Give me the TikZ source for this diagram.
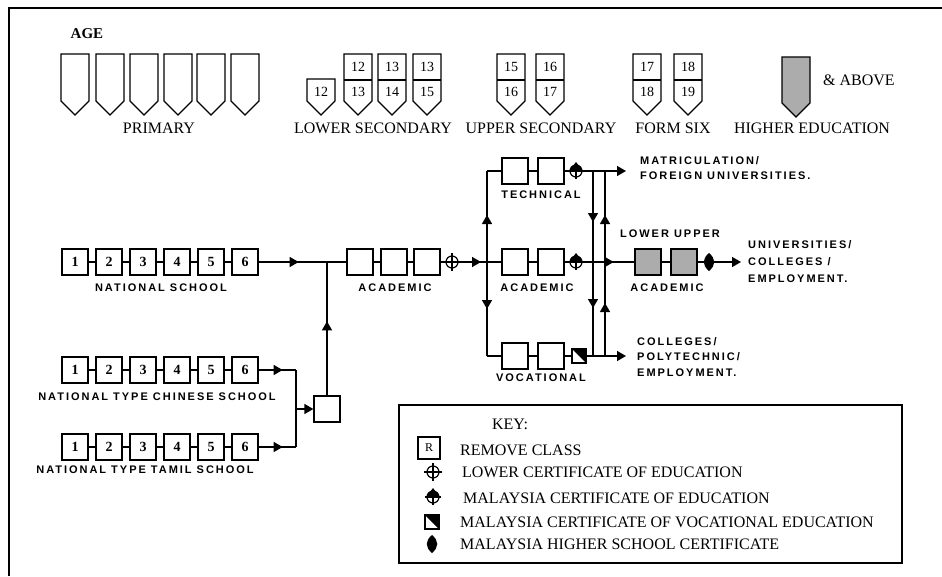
\documentclass[tikz,border=0pt]{standalone}
\usepackage{fontspec}
\setmainfont{Liberation Serif}
\newfontfamily\tagfont[LetterSpace=18]{Liberation Sans}
\usetikzlibrary{arrows.meta,decorations.markings}

\tikzset{
  flow/.style={line width=1.4pt},
  shieldline/.style={line width=1.3pt, line join=miter},
  yearbox/.style={draw, line width=1.3pt, minimum size=26pt, inner sep=0pt,
    font=\fontsize{14}{14}\selectfont\bfseries},
  hebox/.style={yearbox, fill=gray!65},
  agenum/.style={inner sep=0pt, font=\fontsize{14}{14}\selectfont},
  stage/.style={inner sep=0pt, font=\fontsize{16}{18}\selectfont},
  tag/.style={inner sep=0pt, font=\tagfont\fontsize{11}{12}\selectfont\bfseries},
  keytext/.style={stage, anchor=west},
  endarrow/.style={-{Triangle[length=9pt,width=10pt]}},
  midarrow/.style={postaction={decorate}, decoration={markings,
    mark=at position #1 with {\arrow{Triangle[length=9pt,width=10pt]}}}},
  lcesym/.pic={
    \fill[white] (0pt,0pt) circle (6pt);
    \draw[line width=1.2pt] (0pt,0pt) circle (6pt);
    \draw[line width=1.2pt] (-9pt,0pt) -- (9pt,0pt) (0pt,-9pt) -- (0pt,9pt);
  },
  mcesym/.pic={
    \fill[white] (0pt,0pt) circle (6pt);
    \fill (-6pt,0pt) arc[start angle=180,end angle=0,radius=6pt] -- cycle;
    \fill (-3pt,5pt) -- (0pt,9pt) -- (3pt,5pt) -- cycle;
    \draw[line width=1.2pt] (0pt,0pt) circle (6pt);
    \draw[line width=1.2pt] (-8pt,0pt) -- (8pt,0pt) (0pt,-8pt) -- (0pt,6pt);
  },
  mcvesym/.pic={
    \fill[white] (-7pt,-7pt) rectangle (7pt,7pt);
    \fill (-7pt,7pt) -- (7pt,7pt) -- (7pt,-7pt) -- cycle;
    \draw[line width=1.2pt] (-7pt,-7pt) rectangle (7pt,7pt);
  },
  mhscsym/.pic={
    \fill (0pt,9pt) .. controls (7pt,3pt) and (7pt,-3pt) .. (0pt,-9pt)
      .. controls (-7pt,-3pt) and (-7pt,3pt) .. (0pt,9pt);
  },
}

\begin{document}
\begin{tikzpicture}[x=1pt,y=-1pt]
  \useasboundingbox (0,0) rectangle (942,576);
  \draw[line width=1.3pt] (9,576) -- (9,8) -- (942,8);

  % age scale
  \node[inner sep=0pt, font=\fontsize{15}{15}\selectfont\bfseries] (age) at (87,34) {AGE};
  \foreach \x in {61,96,130,164,197,231}
    \draw[shieldline] (\x,54) -- ++(28,0) -- ++(0,47) -- ++(-14,14) -- ++(-14,-14) -- cycle;
  \draw[shieldline] (307,79) -- ++(28,0) -- ++(0,22) -- ++(-14,14) -- ++(-14,-14) -- cycle;
  \node[agenum] (s307) at (321,92) {12};
  \foreach \x/\a/\b in {344/12/13, 378/13/14, 413/13/15, 497/15/16, 536/16/17, 633/17/18, 674/18/19} {
    \draw[shieldline] (\x,54) -- ++(28,0) -- ++(0,47) -- ++(-14,14) -- ++(-14,-14) -- cycle;
    \draw[shieldline] (\x,80) -- ++(28,0);
    \node[agenum] (a\x) at (\x+14,67) {\a};
    \node[agenum] (b\x) at (\x+14,92) {\b};
  }
  \draw[shieldline, fill=gray!65] (782,57) -- ++(28,0) -- ++(0,46) -- ++(-14,14) -- ++(-14,-14) -- cycle;
  \node[stage, anchor=west] (above) at (823,80) {\& ABOVE};
  \node[stage] (primary) at (159,128) {PRIMARY};
  \node[stage] (lowsec) at (373,128) {LOWER SECONDARY};
  \node[stage] (uppsec) at (541,128) {UPPER SECONDARY};
  \node[stage] (formsix) at (673,128) {FORM SIX};
  \node[stage] (higher) at (812,128) {HIGHER EDUCATION};

  % primary schools
  \foreach \r/\y in {ns/262, ct/370, tm/447} {
    \foreach \k in {1,...,6}
      \node[yearbox] (\r\k) at ({75+34*(\k-1)},\y) {\k};
    \foreach \k [evaluate=\k as \j using int(\k+1)] in {1,...,5}
      \draw[flow] (\r\k) -- (\r\j);
  }
  \node[tag] (nslab) at (161,288) {NATIONAL SCHOOL};
  \node[tag] (ctlab) at (157,397) {NATIONAL TYPE CHINESE SCHOOL};
  \node[tag] (tmlab) at (145,470) {NATIONAL TYPE TAMIL SCHOOL};

  % remove class
  \node[yearbox] (rc) at (327,409) {};
  \coordinate (jn) at (327,262);
  \coordinate (ctj) at (296,370);
  \coordinate (tmj) at (296,447);
  \coordinate (rcj) at (296,409);
  \draw[flow, midarrow=40pt] (ns6) -- (jn);
  \draw[flow, midarrow=74pt] (rc) -- (jn);
  \draw[flow, midarrow=24pt] (ct6) -- (ctj);
  \draw[flow, midarrow=24pt] (tm6) -- (tmj);
  \draw[flow] (ctj) -- (tmj);
  \draw[flow, endarrow] (rcj) -- (rc);

  % lower secondary
  \node[yearbox] (ls1) at (360,262) {};
  \node[yearbox] (ls2) at (394,262) {};
  \node[yearbox] (ls3) at (427,262) {};
  \node[tag] (lslab) at (395,288) {ACADEMIC};
  \coordinate (lce) at (452,262);
  \coordinate (br) at (487,262);
  \draw[flow] (jn) -- (ls1) (ls1) -- (ls2) (ls2) -- (ls3) (ls3) -- (lce);
  \draw[flow, midarrow=29pt] (lce) -- (br);

  % upper secondary streams
  \coordinate (bt) at (487,171);
  \coordinate (bv) at (487,356);
  \draw[flow, midarrow=47pt] (br) -- (bt);
  \draw[flow, midarrow=47pt] (br) -- (bv);
  \foreach \r/\y in {tc/171, ac/262, vc/356} {
    \node[yearbox] (\r1) at (515,\y) {};
    \node[yearbox] (\r2) at (551,\y) {};
    \draw[flow] (\r1) -- (\r2);
  }
  \draw[flow] (bt) -- (tc1) (br) -- (ac1) (bv) -- (vc1);
  \node[tag] (tclab) at (541,195) {TECHNICAL};
  \node[tag] (aclab) at (537,288) {ACADEMIC};
  \node[tag] (vclab) at (541,378) {VOCATIONAL};

  \coordinate (tmce) at (576,171);
  \coordinate (amce) at (576,262);
  \coordinate (vmcve) at (579,356);
  \coordinate (tend) at (626,171);
  \coordinate (vend) at (626,356);
  \draw[flow, endarrow] (tc2) -- (tend);
  \draw[flow, endarrow] (vc2) -- (vend);

  % transfer lines
  \coordinate (d1) at (593,171);
  \coordinate (d2) at (593,356);
  \coordinate (u1) at (605,356);
  \coordinate (u2) at (605,171);
  \draw[flow, postaction={decorate}, decoration={markings,
    mark=at position 51pt with {\arrow{Triangle[length=9pt,width=10pt]}},
    mark=at position 137pt with {\arrow{Triangle[length=9pt,width=10pt]}}}] (d1) -- (d2);
  \draw[flow, postaction={decorate}, decoration={markings,
    mark=at position 53pt with {\arrow{Triangle[length=9pt,width=10pt]}},
    mark=at position 141pt with {\arrow{Triangle[length=9pt,width=10pt]}}}] (u1) -- (u2);

  % form six
  \node[hebox] (hc1) at (648,262) {};
  \node[hebox] (hc2) at (684,262) {};
  \coordinate (mhsc) at (709,262);
  \coordinate (aend) at (741,262);
  \draw[flow, midarrow=49pt] (ac2) -- (hc1);
  \draw[flow] (hc1) -- (hc2);
  \draw[flow, endarrow] (hc2) -- (aend);
  \node[tag] (lulab) at (670,234) {LOWER UPPER};
  \node[tag] (hclab) at (667,288) {ACADEMIC};

  \pic at (lce) {lcesym};
  \pic at (tmce) {mcesym};
  \pic at (amce) {mcesym};
  \pic at (vmcve) {mcvesym};
  \pic at (mhsc) {mhscsym};

  % destinations
  \node[tag, anchor=west, align=left, font=\tagfont\fontsize{11}{15}\selectfont\bfseries]
    (dmat) at (640,168) {MATRICULATION/\\FOREIGN UNIVERSITIES.};
  \node[tag, anchor=west, align=left, font=\tagfont\fontsize{11}{17}\selectfont\bfseries]
    (duni) at (748,262) {UNIVERSITIES/\\COLLEGES /\\EMPLOYMENT.};
  \node[tag, anchor=west, align=left, font=\tagfont\fontsize{11}{15.5}\selectfont\bfseries]
    (dcol) at (637,357) {COLLEGES/\\POLYTECHNIC/\\EMPLOYMENT.};

  % key
  \draw[line width=1.5pt] (399,405) rectangle (902,563);
  \node[stage] (key) at (510,424) {KEY:};
  \node[draw, line width=1.2pt, minimum size=22pt, inner sep=0pt,
    font=\fontsize{12}{12}\selectfont] (kr) at (429,448) {R};
  \pic at (433,472) {lcesym};
  \pic at (433,497) {mcesym};
  \pic at (432,522) {mcvesym};
  \pic at (432,544) {mhscsym};
  \node[keytext] (k1) at (460,450) {REMOVE CLASS};
  \node[keytext] (k2) at (462,472) {LOWER CERTIFICATE OF EDUCATION};
  \node[keytext] (k3) at (463,498) {MALAYSIA CERTIFICATE OF EDUCATION};
  \node[keytext] (k4) at (460,522) {MALAYSIA CERTIFICATE OF VOCATIONAL EDUCATION};
  \node[keytext] (k5) at (460,544) {MALAYSIA HIGHER SCHOOL CERTIFICATE};
\end{tikzpicture}
\end{document}
